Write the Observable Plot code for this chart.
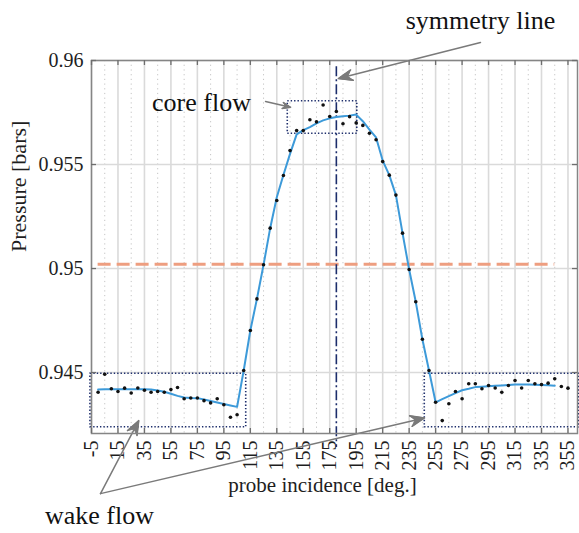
<!DOCTYPE html>
<html>
<head>
<meta charset="utf-8">
<script src="https://cdn.jsdelivr.net/npm/d3@7"></script>
<script src="https://cdn.jsdelivr.net/npm/@observablehq/plot@0.6"></script>
<style>
  html, body { margin: 0; padding: 0; background: #fff; }
  #chart svg, #chart svg text { font-family: 'Liberation Serif', 'Times New Roman', 'DejaVu Serif', serif; }
</style>
</head>
<body>
<div id="chart"></div>
<script>
// Measured probe pressure versus probe incidence angle (every 5 degrees)
const angles = [0, 5, 10, 15, 20, 25, 30, 35, 40, 45, 50, 55, 60, 65, 70, 75, 80, 85, 90, 95,
  100, 105, 110, 115, 120, 125, 130, 135, 140, 145, 150, 155, 160, 165, 170, 175, 180, 185, 190, 195,
  200, 205, 210, 215, 220, 225, 230, 235, 240, 245, 250, 255, 260, 265, 270, 275, 280, 285, 290, 295,
  300, 305, 310, 315, 320, 325, 330, 335, 340, 345, 350, 355];
const pressure = [0.94405, 0.94492, 0.94422, 0.94409, 0.94425, 0.94402, 0.94426, 0.94415, 0.94405, 0.94409,
  0.94405, 0.94418, 0.94428, 0.94374, 0.94378, 0.94378, 0.94365, 0.94354, 0.94374, 0.94345,
  0.94285, 0.94297, 0.94510, 0.94702, 0.94854, 0.95018, 0.95194, 0.95327, 0.95447, 0.95567,
  0.95663, 0.95663, 0.95715, 0.95705, 0.95786, 0.95731, 0.95755, 0.95696, 0.95730, 0.95700,
  0.95688, 0.95650, 0.95619, 0.95514, 0.95449, 0.95353, 0.95170, 0.94995, 0.94840, 0.94660,
  0.94510, 0.94357, 0.94269, 0.94350, 0.94409, 0.94374, 0.94446, 0.94446, 0.94422, 0.94438,
  0.94426, 0.94405, 0.94438, 0.94462, 0.94426, 0.94462, 0.94446, 0.94442, 0.94449, 0.94470,
  0.94433, 0.94425];

// Smoothed pressure curve
const fitAngles = [0, 5, 10, 15, 20, 25, 30, 35, 40, 45, 50, 55, 60, 65, 70, 75, 80, 85, 90, 95,
  100, 105, 110, 115, 120, 125, 130, 135, 140, 145, 150, 155, 160, 165, 170, 175, 180, 185, 190, 195,
  200, 205, 210, 215, 220, 225, 230, 235, 240, 245, 250, 255, 260, 265, 270, 275, 280, 285, 290, 295,
  300, 305, 310, 315, 320, 325, 330, 335, 340, 345];
const fitPressure = [0.94418, 0.94420, 0.94420, 0.94420, 0.94420, 0.94420, 0.94420, 0.94420, 0.94418, 0.94414,
  0.94408, 0.94398, 0.94388, 0.94380, 0.94378, 0.94377, 0.94370, 0.94363, 0.94356, 0.94349,
  0.94342, 0.94335, 0.94510, 0.94702, 0.94854, 0.95018, 0.95194, 0.95343, 0.95450, 0.95551,
  0.95645, 0.95665, 0.95680, 0.95698, 0.95712, 0.95722, 0.95728, 0.95732, 0.95735, 0.95740,
  0.95708, 0.95668, 0.95630, 0.95519, 0.95449, 0.95353, 0.95170, 0.94995, 0.94840, 0.94660,
  0.94510, 0.94357, 0.94372, 0.94387, 0.94401, 0.94415, 0.94422, 0.94430, 0.94432, 0.94434,
  0.94436, 0.94438, 0.94440, 0.94442, 0.94442, 0.94442, 0.94441, 0.94440, 0.94439, 0.94437];

// Reference pressure level and the angular span it covers
const referencePressure = 0.9502;
const referenceSpan = [0, 345];

// Symmetry axis of the profile
const symmetryAngle = 180;
const symmetrySpan = [0.9597, 0.9414];

// Axis ticks
const xTicks = [-5, 15, 35, 55, 75, 95, 115, 135, 155, 175, 195, 215, 235, 255, 275, 295, 315, 335, 355];
const xMinorTicks = [5, 25, 45, 65, 85, 105, 125, 145, 165, 185, 205, 225, 245, 265, 285, 305, 325, 345];
const yTicks = [0.945, 0.95, 0.955, 0.96];
const xTickLabels = ["-5", "15", "35", "55", "75", "95", "115", "135", "155", "175", "195", "215", "235",
  "255", "275", "295", "315", "335", "355"];
const yTickLabels = ["0.945", "0.95", "0.955", "0.96"];

// Highlighted regions (angle range, pressure range)
const regionNames = ["wake flow (left)", "core flow", "wake flow (right)"];
const regionAngle1 = [-5.8, 143.3, 246.8];
const regionAngle2 = [111.9, 195.8, 363.2];
const regionP1 = [0.94237, 0.95648, 0.94237];
const regionP2 = [0.94494, 0.95804, 0.94494];

// Callout labels and their arrows
const calloutLabels = ["symmetry line", "core flow", "wake flow"];
const calloutAngle = [288.9, 78.1, 1.0];
const calloutP = [0.96192, 0.95795, 0.93813];
const arrowFromAngle = [288.9, 126.5, 1.8, 1.8];
const arrowFromP = [0.96087, 0.95803, 0.93918, 0.93918];
const arrowToAngle = [181.5, 145.4, 30.7, 246.6];
const arrowToP = [0.95913, 0.95775, 0.94269, 0.94282];

const points = angles.map((a, i) => ({angle: a, p: pressure[i]}));
const fit = fitAngles.map((a, i) => ({angle: a, p: fitPressure[i]}));
const regions = regionNames.map((n, i) => ({name: n, x1: regionAngle1[i], x2: regionAngle2[i], y1: regionP1[i], y2: regionP2[i]}));
const callouts = calloutLabels.map((t, i) => ({text: t, x: calloutAngle[i], y: calloutP[i]}));
const arrows = arrowFromAngle.map((a, i) => ({x1: a, y1: arrowFromP[i], x2: arrowToAngle[i], y2: arrowToP[i]}));

const serif = "'Liberation Serif', 'Times New Roman', 'DejaVu Serif', serif";
const ink = "#1e1e1e";
const arrowGray = "#7a7a7a";

const chart = Plot.plot({
  width: 579,
  height: 533,
  marginLeft: 91,
  marginRight: 2,
  marginTop: 60,
  marginBottom: 100,
  style: {fontFamily: serif, fontSize: "20px", color: ink, background: "#fff", overflow: "visible"},
  x: {domain: [-5, 362.2]},
  y: {domain: [0.94207, 0.96]},
  marks: [
    // grid
    Plot.gridX(xMinorTicks, {stroke: "#c4c4c4", strokeOpacity: 1, strokeDasharray: "1.2,3.5"}),
    Plot.gridX(xTicks, {stroke: "#dadada", strokeOpacity: 1, strokeWidth: 1.6}),
    Plot.gridY(yTicks, {stroke: "#dadada", strokeOpacity: 1, strokeWidth: 1.6}),

    // axes
    Plot.axisX({
      ticks: xTicks, tickSize: 0, tickRotate: -90, tickPadding: 7, label: null,
      tickFormat: (d) => xTickLabels[xTicks.indexOf(d)], fontSize: 20, fill: ink
    }),
    Plot.axisY({
      ticks: yTicks, tickSize: 0, tickPadding: 8, label: null,
      tickFormat: (d) => yTickLabels[yTicks.indexOf(d)], fontSize: 20, fill: ink
    }),

    // reference level
    Plot.ruleY([referencePressure], {
      x1: referenceSpan[0], x2: referenceSpan[1],
      stroke: "#ee9e80", strokeWidth: 3, strokeDasharray: "13,6"
    }),

    // symmetry axis
    Plot.ruleX([symmetryAngle], {
      y1: symmetrySpan[0], y2: symmetrySpan[1],
      stroke: "#1c2d6b", strokeWidth: 1.6, strokeDasharray: "10,3,2,3"
    }),

    // highlighted regions
    Plot.rect(regions, {
      x1: "x1", x2: "x2", y1: "y1", y2: "y2",
      fill: "none", stroke: "#1c2d6b", strokeWidth: 1.6, strokeDasharray: "1.4,2"
    }),

    // smoothed curve and samples
    Plot.line(fit, {x: "angle", y: "p", stroke: "#3d9ad9", strokeWidth: 2}),
    Plot.dot(points, {x: "angle", y: "p", r: 1.8, fill: "#111", stroke: "none"}),

    // callouts
    Plot.arrow(arrows, {
      x1: "x1", y1: "y1", x2: "x2", y2: "y2",
      stroke: arrowGray, strokeWidth: 1.5, headLength: 15, headAngle: 42
    }),
    Plot.text(callouts, {
      x: "x", y: "y", text: "text", fontSize: 26, fill: "#111", lineAnchor: "middle"
    }),

    // axis titles
    Plot.text(["Pressure [bars]"], {
      frameAnchor: "left", dx: -73, dy: 5, rotate: -90, fontSize: 22, fill: ink
    }),
    Plot.text(["probe incidence [deg.]"], {
      frameAnchor: "bottom", dx: -12, dy: 58, fontSize: 21, fill: ink
    }),

    // box and inward ticks
    Plot.frame({stroke: "#858585", strokeWidth: 1.5}),
    Plot.tickX(xTicks, {x: (d) => d, insetBottom: 368, stroke: "#6e6e6e", strokeWidth: 1.3}),
    Plot.tickX(xTicks, {x: (d) => d, insetTop: 368, stroke: "#6e6e6e", strokeWidth: 1.3}),
    Plot.tickY(yTicks, {y: (d) => d, insetRight: 481, stroke: "#6e6e6e", strokeWidth: 1.3}),
    Plot.tickY(yTicks, {y: (d) => d, insetLeft: 481, stroke: "#6e6e6e", strokeWidth: 1.3})
  ]
});

// Fill the arrowheads: each arrow path ends with "M barb L tip L barb"
d3.select(chart).selectAll('g[aria-label="arrow"] path').each(function () {
  const nums = (this.getAttribute("d") || "").match(/-?\d*\.?\d+(?:e[-+]?\d+)?/gi);
  if (!nums || nums.length < 10) return;
  const v = nums.map(Number);
  const n = v.length;
  const [ax, ay, tx, ty, bx, by] = v.slice(n - 6);
  const mx = (ax + bx) / 2, my = (ay + by) / 2;
  const nx = tx + (mx - tx) * 0.7, ny = ty + (my - ty) * 0.7;
  const head = document.createElementNS("http://www.w3.org/2000/svg", "path");
  head.setAttribute("d", `M${ax},${ay}L${tx},${ty}L${bx},${by}L${nx},${ny}Z`);
  head.setAttribute("fill", arrowGray);
  head.setAttribute("stroke", arrowGray);
  head.setAttribute("stroke-width", "1");
  const tr = this.getAttribute("transform");
  if (tr) head.setAttribute("transform", tr);
  this.parentNode.appendChild(head);
});

document.getElementById("chart").appendChild(chart);
</script>
</body>
</html>
